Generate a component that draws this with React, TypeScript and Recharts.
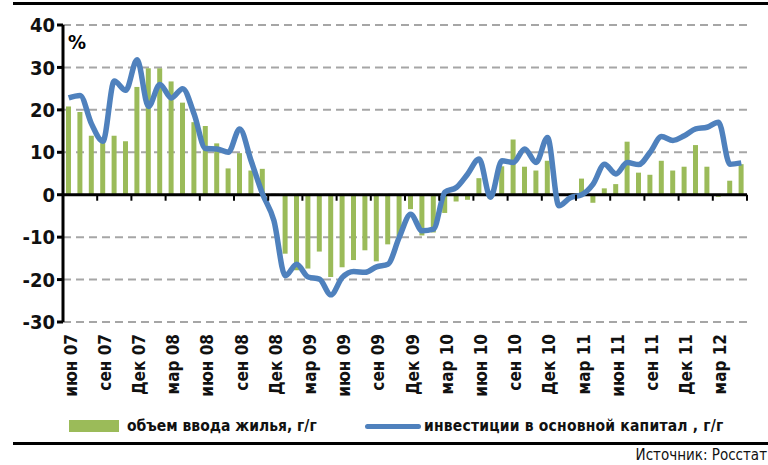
import { ComposedChart, Bar, Line, XAxis, YAxis, CartesianGrid, ReferenceLine } from 'recharts'

const months = [
  'июн 07', 'июл 07', 'авг 07', 'сен 07', 'окт 07', 'ноя 07', 'Дек 07', 'янв 08', 'фев 08', 'мар 08',
  'апр 08', 'май 08', 'июн 08', 'июл 08', 'авг 08', 'сен 08', 'окт 08', 'ноя 08', 'Дек 08', 'янв 09',
  'фев 09', 'мар 09', 'апр 09', 'май 09', 'июн 09', 'июл 09', 'авг 09', 'сен 09', 'окт 09', 'ноя 09',
  'Дек 09', 'янв 10', 'фев 10', 'мар 10', 'апр 10', 'май 10', 'июн 10', 'июл 10', 'авг 10', 'сен 10',
  'окт 10', 'ноя 10', 'Дек 10', 'янв 11', 'фев 11', 'мар 11', 'апр 11', 'май 11', 'июн 11', 'июл 11',
  'авг 11', 'сен 11', 'окт 11', 'ноя 11', 'Дек 11', 'янв 12', 'фев 12', 'мар 12', 'апр 12', 'май 12',
]

// объем ввода жилья, г/г
const housing = [
  20.8, 19.5, 13.9, 12.5, 13.9, 12.6, 25.4, 29.8, 29.8, 26.7,
  21.7, 17.1, 16.2, 12.1, 6.2, 9.8, 5.7, 6.1, 0.2, -13.9,
  -17.8, -17.4, -13.4, -19.4, -17.1, -15.4, -13.1, -15.7, -11.7, -10,
  -3.4, -9.6, -8.9, -4.3, -1.6, -1.2, 3.9, -1, 6.7, 13,
  6.6, 5.7, 8, 0, 0.3, 3.8, -1.9, 1.5, 2.5, 12.5,
  5.2, 4.7, 8, 5.7, 6.6, 11.7, 6.6, -0.5, 3.3, 7.2,
]

// инвестиции в основной капитал, г/г
const investment = [
  22.8, 23.4, 16.7, 12.6, 26.8, 24.6, 31.8, 20.8, 26, 22.8,
  25, 19, 10.9, 10.8, 10, 15.5, 8, 0.2, -6.1, -19.1,
  -16.4, -19.4, -19.9, -23.6, -19.5, -18.1, -18.3, -17, -16.4, -10,
  -4.6, -8.5, -8.1, 0.6, 1.7, 4.9, 8.4, -0.6, 8, 7.6,
  10.8, 7.6, 13.5, -2.6, -0.7, 0, 2.5, 7.2, 4.9, 7.6,
  7.1, 10, 13.7, 12.8, 13.9, 15.5, 15.9, 17.1, 7.2, 7.5,
]

const yTicks = [-30, -20, -10, 0, 10, 20, 30, 40]

const data = months.map((m, i) => ({ month: m, housing: housing[i], investment: investment[i] }))

const W = 768
const H = 465
const PLOT_LEFT = 63
const PLOT_RIGHT = 747
const PLOT_TOP = 25
const PLOT_BOTTOM = 322
const band = (PLOT_RIGHT - PLOT_LEFT) / months.length
const zeroY = PLOT_TOP + (40 / 70) * (PLOT_BOTTOM - PLOT_TOP)

const font = "'DejaVu Sans Condensed', 'DejaVu Sans', sans-serif"

function MonthTick(props: any) {
  const { x, index, payload } = props
  if (index % 3 !== 0 && index !== months.length - 1) return null
  return (
    <g>
      {index % 3 === 0 && (
        <>
          <line x1={x - band / 2} x2={x - band / 2} y1={zeroY} y2={zeroY + 6} stroke="#000" strokeWidth={2} />
          <text
            transform={`translate(${x + 2}, 334) rotate(-90)`}
            textAnchor="end"
            dy="0.35em"
            fontSize={17}
            fontWeight={600}
            fontFamily={font}
            fontStretch="condensed"
            fill="#111"
          >
            {payload.value}
          </text>
        </>
      )}
      {index === months.length - 1 && (
        <line x1={x + band / 2} x2={x + band / 2} y1={zeroY} y2={zeroY + 6} stroke="#000" strokeWidth={2} />
      )}
    </g>
  )
}

export default function App() {
  return (
    <div style={{ position: 'absolute', left: 0, top: 0, width: W, height: H, background: '#fff', fontFamily: font, fontStretch: 'condensed' }}>
      <div style={{ position: 'absolute', left: 13, right: 0, top: 2, height: 3, background: '#000' }} />
      <ComposedChart
        width={W}
        height={H}
        data={data}
        margin={{ top: PLOT_TOP, right: W - PLOT_RIGHT, bottom: 53, left: 0 }}
        barSize={5}
      >
        <CartesianGrid vertical={false} stroke="#a6a6a6" strokeWidth={2} strokeDasharray="8 5" />
        <XAxis
          dataKey="month"
          interval={0}
          height={90}
          axisLine={false}
          tickLine={false}
          tick={<MonthTick />}
        />
        <YAxis
          width={PLOT_LEFT}
          domain={[-30, 40]}
          ticks={yTicks}
          interval={0}
          axisLine={{ stroke: '#000', strokeWidth: 3 }}
          tickLine={{ stroke: '#000', strokeWidth: 3 }}
          tickSize={6}
          tick={{ fill: '#111', fontSize: 20, fontWeight: 600, fontFamily: font, fontStretch: 'condensed' }}
        />
        <Bar dataKey="housing" fill="#9bbb59" isAnimationActive={false} />
        <ReferenceLine y={0} stroke="#000" strokeWidth={3} />
        <Line
          dataKey="investment"
          type="monotone"
          stroke="#4f81bd"
          strokeWidth={5.5}
          dot={false}
          isAnimationActive={false}
        />
      </ComposedChart>
      <div style={{ position: 'absolute', left: 68, top: 30, fontSize: 20, fontWeight: 700 }}>%</div>

      {/* легенда */}
      <div style={{ position: 'absolute', left: 69, top: 420, width: 50, height: 12, background: '#9bbb59' }} />
      <div style={{ position: 'absolute', left: 127, top: 417, fontSize: 15.5, fontWeight: 600, letterSpacing: 0, color: '#111', whiteSpace: 'pre' }}>
        объем ввода жилья, г/г
      </div>
      <div style={{ position: 'absolute', left: 365, top: 424, width: 56, height: 5, borderRadius: 3, background: '#4f81bd' }} />
      <div style={{ position: 'absolute', left: 424, top: 417, fontSize: 15.5, fontWeight: 600, letterSpacing: 0.2, color: '#111', whiteSpace: 'pre' }}>
        инвестиции в основной капитал , г/г
      </div>

      <div style={{ position: 'absolute', left: 13, right: 0, top: 442, height: 3, background: '#000' }} />
      <div style={{ position: 'absolute', right: 1, top: 446, fontSize: 15, fontWeight: 500, color: '#111' }}>
        Источник: Росстат
      </div>
    </div>
  )
}
